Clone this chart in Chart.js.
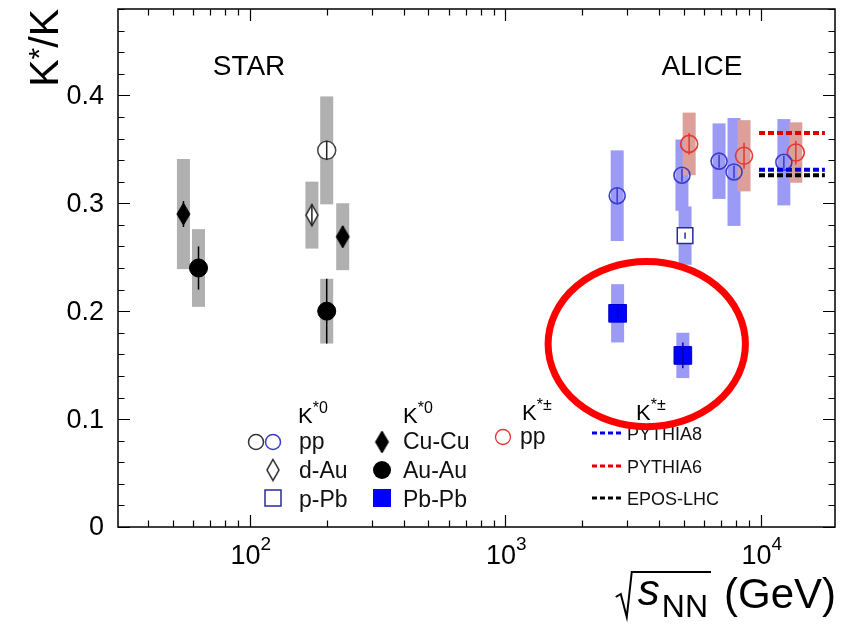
<!DOCTYPE html>
<html>
<head>
<meta charset="utf-8">
<script src="https://cdn.jsdelivr.net/npm/chart.js@4.4.1/dist/chart.umd.min.js"></script>
<style>
  html, body { margin: 0; padding: 0; background: #ffffff; }
  canvas { display: block; }
</style>
</head>
<body>
<canvas id="c" width="841" height="624"></canvas>
<script>
// Axis ranges
const X_MIN = 30.5, X_MAX = 19500;
const Y_MIN = 0, Y_MAX = 0.48;

// ---- STAR (RHIC) ----
const starPpEnergy = [200];
const starPpRatio  = [0.349];
const starPpStat   = [0.009];
const starPpSys    = [0.050];

const starDAuEnergy = [175];
const starDAuRatio  = [0.289];
const starDAuStat   = [0.010];
const starDAuSys    = [0.031];

const starCuCuEnergy = [55, 231];
const starCuCuRatio  = [0.290, 0.269];
const starCuCuStat   = [0.012, 0.010];
const starCuCuSys    = [0.051, 0.031];

const starAuAuEnergy = [63, 200];
const starAuAuRatio  = [0.240, 0.200];
const starAuAuStat   = [0.020, 0.030];
const starAuAuSys    = [0.036, 0.030];

// ---- ALICE (LHC) ----
const alicePpEnergy = [2740, 4910, 6860, 7850, 12300];
const alicePpRatio  = [0.307, 0.326, 0.339, 0.329, 0.338];
const alicePpStat   = [0.008, 0.006, 0.006, 0.006, 0.006];
const alicePpSys    = [0.042, 0.033, 0.035, 0.050, 0.040];

const aliceChargedEnergy = [5240, 8590, 13700];
const aliceChargedRatio  = [0.355, 0.344, 0.347];
const aliceChargedStat   = [0.010, 0.012, 0.011];
const aliceChargedSys    = [0.029, 0.033, 0.028];

const alicePPbEnergy = [5050];
const alicePPbRatio  = [0.270];
const alicePPbStat   = [0.003];
const alicePPbSys    = [0.027];

const alicePbPbEnergy = [2750, 4950];
const alicePbPbRatio  = [0.198, 0.159];
const alicePbPbStat   = [0.005, 0.012];
const alicePbPbSys    = [0.027, 0.021];

// Event-generator predictions (K*±/K, pp 13 TeV)
const modelNames  = ['PYTHIA8', 'PYTHIA6', 'EPOS-LHC'];
const modelRatio  = [0.331, 0.365, 0.326];
const modelEnergy = [9830, 17800];

// Highlighted region around the Pb-Pb points
const highlightEnergy = [1470, 8700];
const highlightRatio  = [0.093, 0.246];

// Tick labels
const yTickLabels = ['0', '0.1', '0.2', '0.3', '0.4'];
const xTickExponents = ['2', '3', '4'];

// ---------------------------------------------------------------
const FONT = '"Liberation Sans", Arial, Helvetica, sans-serif';
const GREY_BOX = '#b0b0b0';
const BLUE_BOX = '#9b9bf6';
const RED_BOX = '#dc9f9a';
const BLUE = '#3a3acc';
const RED = '#e83434';

const pts = (e, r) => e.map((v, i) => ({ x: v, y: r[i] }));

function diamondCanvas(w, h, fill, stroke, lw) {
  const c = document.createElement('canvas');
  c.width = w + 4; c.height = h + 4;
  const g = c.getContext('2d');
  g.beginPath();
  g.moveTo(c.width / 2, 2);
  g.lineTo(c.width - 2, c.height / 2);
  g.lineTo(c.width / 2, c.height - 2);
  g.lineTo(2, c.height / 2);
  g.closePath();
  g.fillStyle = fill; g.fill();
  if (stroke) { g.lineWidth = lw; g.strokeStyle = stroke; g.stroke(); }
  return c;
}
const openDiamond = diamondCanvas(12, 21, '#ffffff', '#222222', 1.5);
const solidDiamond = diamondCanvas(13, 22, '#000000', '#000000', 1);

// Systematic boxes and statistical bars
const errorSeries = [
  { e: starPpEnergy, r: starPpRatio, st: starPpStat, sy: starPpSys, box: GREY_BOX, bar: '#222' },
  { e: starDAuEnergy, r: starDAuRatio, st: starDAuStat, sy: starDAuSys, box: GREY_BOX, bar: '#222' },
  { e: starCuCuEnergy, r: starCuCuRatio, st: starCuCuStat, sy: starCuCuSys, box: GREY_BOX, bar: '#000' },
  { e: starAuAuEnergy, r: starAuAuRatio, st: starAuAuStat, sy: starAuAuSys, box: GREY_BOX, bar: '#000' },
  { e: alicePpEnergy, r: alicePpRatio, st: alicePpStat, sy: alicePpSys, box: BLUE_BOX, bar: BLUE },
  { e: alicePPbEnergy, r: alicePPbRatio, st: alicePPbStat, sy: alicePPbSys, box: BLUE_BOX, bar: '#2a2a9a' },
  { e: alicePbPbEnergy, r: alicePbPbRatio, st: alicePbPbStat, sy: alicePbPbSys, box: BLUE_BOX, bar: '#0000aa' },
  { e: aliceChargedEnergy, r: aliceChargedRatio, st: aliceChargedStat, sy: aliceChargedSys, box: RED_BOX, bar: RED }
];

const modelColors = ['#0000dd', '#dd0000', '#000000'];

const datasets = [
  ...modelNames.map((name, i) => ({
    label: name,
    data: [{ x: modelEnergy[0], y: modelRatio[i] }, { x: modelEnergy[1], y: modelRatio[i] }],
    showLine: true, borderColor: modelColors[i], borderWidth: 4, borderDash: [6, 3],
    pointRadius: 0, borderCapStyle: 'butt'
  })),
  { label: 'STAR pp', data: pts(starPpEnergy, starPpRatio), pointStyle: 'circle', pointRadius: 9,
    pointBackgroundColor: '#ffffff', pointBorderColor: '#444444', pointBorderWidth: 1.5 },
  { label: 'STAR d-Au', data: pts(starDAuEnergy, starDAuRatio), pointStyle: openDiamond, pointRadius: 8 },
  { label: 'STAR Cu-Cu', data: pts(starCuCuEnergy, starCuCuRatio), pointStyle: solidDiamond, pointRadius: 8 },
  { label: 'STAR Au-Au', data: pts(starAuAuEnergy, starAuAuRatio), pointStyle: 'circle', pointRadius: 9,
    pointBackgroundColor: '#000000', pointBorderColor: '#000000', pointBorderWidth: 1 },
  { label: 'ALICE pp K*0', data: pts(alicePpEnergy, alicePpRatio), pointStyle: 'circle', pointRadius: 8,
    pointBackgroundColor: 'rgba(0,0,0,0)', pointBorderColor: BLUE, pointBorderWidth: 1.6 },
  { label: 'ALICE pp K*±', data: pts(aliceChargedEnergy, aliceChargedRatio), pointStyle: 'circle', pointRadius: 8.5,
    pointBackgroundColor: 'rgba(0,0,0,0)', pointBorderColor: RED, pointBorderWidth: 1.6 },
  { label: 'ALICE p-Pb', data: pts(alicePPbEnergy, alicePPbRatio), pointStyle: 'rect', pointRadius: 11,
    pointBackgroundColor: '#ffffff', pointBorderColor: '#2a2a9a', pointBorderWidth: 1.5 },
  { label: 'ALICE Pb-Pb', data: pts(alicePbPbEnergy, alicePbPbRatio), pointStyle: 'rect', pointRadius: 12.5,
    pointBackgroundColor: '#0000ff', pointBorderColor: '#0000cc', pointBorderWidth: 1 }
];

// ---------- drawing helpers ----------
function textWithSup(ctx, base, sup, x, y, size, supSize, rise, align) {
  ctx.font = `${size}px ${FONT}`;
  const wb = ctx.measureText(base).width;
  ctx.font = `${supSize}px ${FONT}`;
  const ws = ctx.measureText(sup).width;
  let x0 = x;
  if (align === 'center') x0 = x - (wb + ws) / 2;
  else if (align === 'right') x0 = x - (wb + ws);
  ctx.textAlign = 'left';
  ctx.textBaseline = 'alphabetic';
  ctx.font = `${size}px ${FONT}`;
  ctx.fillText(base, x0, y);
  ctx.font = `${supSize}px ${FONT}`;
  ctx.fillText(sup, x0 + wb, y - rise);
}

function legendMarker(ctx, kind, cx, cy) {
  ctx.save();
  ctx.setLineDash([]);
  switch (kind) {
    case 'greyCircle':
      ctx.beginPath(); ctx.arc(cx, cy, 7.5, 0, Math.PI * 2);
      ctx.lineWidth = 1.5; ctx.strokeStyle = '#333'; ctx.stroke(); break;
    case 'blueCircle':
      ctx.beginPath(); ctx.arc(cx, cy, 7.5, 0, Math.PI * 2);
      ctx.lineWidth = 1.5; ctx.strokeStyle = BLUE; ctx.stroke(); break;
    case 'redCircle':
      ctx.beginPath(); ctx.arc(cx, cy, 7.5, 0, Math.PI * 2);
      ctx.lineWidth = 1.3; ctx.strokeStyle = RED; ctx.stroke(); break;
    case 'openDiamond':
      ctx.drawImage(openDiamond, cx - openDiamond.width / 2, cy - openDiamond.height / 2); break;
    case 'solidDiamond':
      ctx.drawImage(solidDiamond, cx - solidDiamond.width / 2, cy - solidDiamond.height / 2); break;
    case 'openSquare':
      ctx.lineWidth = 1.5; ctx.strokeStyle = '#2a2a9a';
      ctx.strokeRect(cx - 8, cy - 8, 16, 16); break;
    case 'solidSquare':
      ctx.fillStyle = '#0000ff'; ctx.fillRect(cx - 9, cy - 9, 18, 18); break;
    case 'solidCircle':
      ctx.beginPath(); ctx.arc(cx, cy, 9, 0, Math.PI * 2);
      ctx.fillStyle = '#000'; ctx.fill(); break;
  }
  ctx.restore();
}

const decorations = {
  id: 'decorations',
  beforeDatasetsDraw(chart) {
    const { ctx, scales: { x, y } } = chart;
    ctx.save();
    // systematic uncertainty boxes
    for (const s of errorSeries) {
      ctx.fillStyle = s.box;
      s.e.forEach((e, i) => {
        const px = x.getPixelForValue(e);
        const top = y.getPixelForValue(s.r[i] + s.sy[i]);
        const bot = y.getPixelForValue(s.r[i] - s.sy[i]);
        ctx.fillRect(px - 6.5, top, 13, bot - top);
      });
    }
    ctx.restore();
  },
  afterDatasetsDraw(chart) {
    const { ctx, scales: { x, y } } = chart;
    ctx.save();
    // statistical error bars
    for (const s of errorSeries) {
      ctx.strokeStyle = s.bar;
      ctx.lineWidth = 1.5;
      s.e.forEach((e, i) => {
        const px = x.getPixelForValue(e);
        ctx.beginPath();
        ctx.moveTo(px, y.getPixelForValue(s.r[i] + s.st[i]));
        ctx.lineTo(px, y.getPixelForValue(s.r[i] - s.st[i]));
        ctx.stroke();
      });
    }
    ctx.restore();
  },
  afterDraw(chart) {
    const { ctx, chartArea: a, scales: { x, y } } = chart;
    ctx.save();
    ctx.fillStyle = '#000';
    ctx.strokeStyle = '#000';

    // frame
    ctx.lineWidth = 1.5;
    ctx.strokeRect(a.left, a.top, a.right - a.left, a.bottom - a.top);

    // y ticks (inward on both sides)
    ctx.lineWidth = 1.2;
    for (let k = 0; k <= 24; k++) {
      const v = k * 0.02;
      if (v > Y_MAX + 1e-9) break;
      const py = Math.round(y.getPixelForValue(v)) + 0.5;
      const len = (k % 5 === 0) ? 12 : 6.5;
      ctx.beginPath();
      ctx.moveTo(a.left, py); ctx.lineTo(a.left + len, py);
      ctx.moveTo(a.right, py); ctx.lineTo(a.right - len, py);
      ctx.stroke();
    }
    // x ticks (log decades, inward on both sides)
    for (let d = 1; d <= 4; d++) {
      for (let m = 1; m <= 9; m++) {
        const v = m * Math.pow(10, d);
        if (v <= X_MIN || v >= X_MAX) continue;
        const px = Math.round(x.getPixelForValue(v)) + 0.5;
        const len = (m === 1) ? 12 : 6.5;
        ctx.beginPath();
        ctx.moveTo(px, a.bottom); ctx.lineTo(px, a.bottom - len);
        ctx.moveTo(px, a.top); ctx.lineTo(px, a.top + len);
        ctx.stroke();
      }
    }

    // y tick labels
    ctx.font = `27px ${FONT}`;
    ctx.textAlign = 'right';
    ctx.textBaseline = 'middle';
    yTickLabels.forEach((lab) => {
      ctx.fillText(lab, 104, y.getPixelForValue(parseFloat(lab)) + 1);
    });
    // x tick labels 10^n
    xTickExponents.forEach((ex) => {
      const px = x.getPixelForValue(Math.pow(10, parseInt(ex, 10)));
      textWithSup(ctx, '10', ex, px + 1, 564, 27, 19, 14, 'center');
    });

    // y title: K*/K (rotated)
    ctx.save();
    ctx.translate(58, 9);
    ctx.rotate(-Math.PI / 2);
    ctx.textBaseline = 'alphabetic';
    ctx.textAlign = 'left';
    ctx.font = `41px ${FONT}`;
    const wK = ctx.measureText('K').width;
    const wSlashK = ctx.measureText('/K').width;
    ctx.font = `30px ${FONT}`;
    const wStar = ctx.measureText('*').width;
    const total = wK + wStar + wSlashK;
    let tx = -total;
    ctx.font = `41px ${FONT}`;
    ctx.fillText('K', tx, 0); tx += wK;
    ctx.font = `30px ${FONT}`;
    ctx.fillText('*', tx, -9); tx += wStar;
    ctx.font = `41px ${FONT}`;
    ctx.fillText('/K', tx, 0);
    ctx.restore();

    // x title: sqrt(s_NN) (GeV)
    ctx.textBaseline = 'alphabetic';
    ctx.textAlign = 'right';
    ctx.font = `42px ${FONT}`;
    ctx.fillText('(GeV)', 836, 608);
    const wGeV = ctx.measureText('(GeV)').width;
    ctx.font = `32px ${FONT}`;
    const wNN = ctx.measureText('NN').width;
    ctx.font = `italic 44px ${FONT}`;
    const wS = ctx.measureText('s').width;
    const nnX = 836 - wGeV - 16 - wNN;
    const sX = nnX - wS - 2;
    ctx.textAlign = 'left';
    ctx.fillText('s', sX, 605);
    ctx.font = `32px ${FONT}`;
    ctx.fillText('NN', nnX, 617);
    ctx.lineWidth = 2;
    ctx.beginPath();
    ctx.moveTo(sX - 22, 597);
    ctx.lineTo(sX - 17, 594);
    ctx.lineTo(sX - 11, 617);
    ctx.lineTo(sX - 6, 572);
    ctx.lineTo(nnX + wNN + 3, 572);
    ctx.stroke();

    // experiment labels
    ctx.font = `28px ${FONT}`;
    ctx.textAlign = 'center';
    ctx.fillText('STAR', 249, 75);
    ctx.fillText('ALICE', 702, 75);

    // legend
    ctx.fillStyle = '#000';
    textWithSup(ctx, 'K', '*0', 298, 423, 22, 16, 10, 'left');
    textWithSup(ctx, 'K', '*0', 403, 423, 22, 16, 10, 'left');
    textWithSup(ctx, 'K', '*±', 522, 420, 22, 16, 10, 'left');
    textWithSup(ctx, 'K', '*±', 636, 420, 22, 16, 10, 'left');

    legendMarker(ctx, 'greyCircle', 256, 442);
    legendMarker(ctx, 'blueCircle', 273, 442);
    legendMarker(ctx, 'openDiamond', 273, 470);
    legendMarker(ctx, 'openSquare', 273, 498);
    legendMarker(ctx, 'solidDiamond', 382, 442);
    legendMarker(ctx, 'solidCircle', 382, 470);
    legendMarker(ctx, 'solidSquare', 382, 498);
    legendMarker(ctx, 'redCircle', 503, 437);

    ctx.font = `23px ${FONT}`;
    ctx.textAlign = 'left';
    ctx.fillStyle = '#111';
    ctx.fillText('pp', 299, 449);
    ctx.fillText('d-Au', 299, 478);
    ctx.fillText('p-Pb', 299, 507);
    ctx.fillText('Cu-Cu', 403, 449);
    ctx.fillText('Au-Au', 403, 478);
    ctx.fillText('Pb-Pb', 403, 507);
    ctx.fillText('pp', 520, 444);

    const modelY = [433, 466, 498];
    ctx.font = `18px ${FONT}`;
    modelNames.forEach((name, i) => {
      ctx.save();
      ctx.strokeStyle = modelColors[i];
      ctx.lineWidth = 3;
      ctx.setLineDash([5, 3]);
      ctx.beginPath();
      ctx.moveTo(592, modelY[i]); ctx.lineTo(622, modelY[i]);
      ctx.stroke();
      ctx.restore();
      ctx.fillStyle = '#111';
      ctx.fillText(name, 627, modelY[i] + 7);
    });

    // highlight ellipse
    const ex0 = x.getPixelForValue(highlightEnergy[0]);
    const ex1 = x.getPixelForValue(highlightEnergy[1]);
    const ey0 = y.getPixelForValue(highlightRatio[0]);
    const ey1 = y.getPixelForValue(highlightRatio[1]);
    ctx.beginPath();
    ctx.ellipse((ex0 + ex1) / 2, (ey0 + ey1) / 2, Math.abs(ex1 - ex0) / 2, Math.abs(ey0 - ey1) / 2, 0, 0, Math.PI * 2);
    ctx.lineWidth = 7;
    ctx.strokeStyle = '#ff0000';
    ctx.stroke();

    ctx.restore();
  }
};

new Chart(document.getElementById('c'), {
  type: 'scatter',
  data: { datasets },
  options: {
    responsive: false,
    animation: false,
    devicePixelRatio: 1,
    events: [],
    layout: { autoPadding: false, padding: { left: 118, top: 9, right: 6, bottom: 97 } },
    scales: {
      x: { type: 'logarithmic', min: X_MIN, max: X_MAX, display: false },
      y: { type: 'linear', min: Y_MIN, max: Y_MAX, display: false }
    },
    plugins: { legend: { display: false }, tooltip: { enabled: false } }
  },
  plugins: [decorations]
});
</script>
</body>
</html>
